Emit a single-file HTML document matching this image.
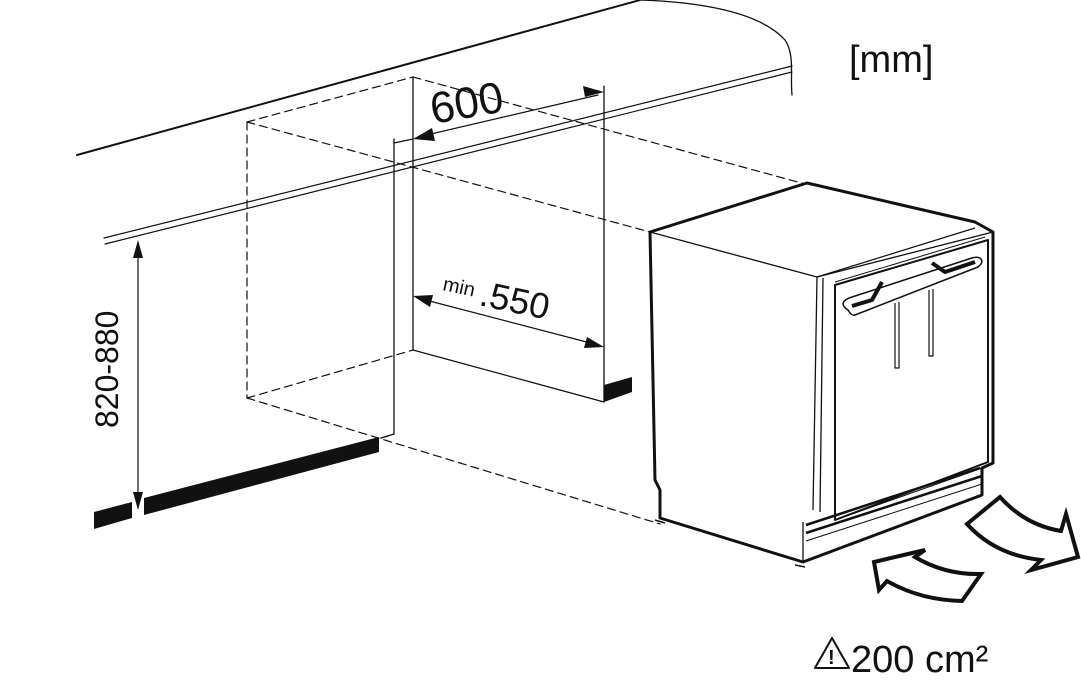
<!DOCTYPE html>
<html><head><meta charset="utf-8"><style>
html,body{margin:0;padding:0;background:#fff;}
svg{display:block;}
text{font-family:"Liberation Sans",sans-serif;fill:#111;}
</style></head><body>
<svg width="1081" height="690" viewBox="0 0 1081 690" xmlns="http://www.w3.org/2000/svg">
<g fill="none" stroke="#111" stroke-linecap="round">
<path d="M77,155 L640,0" stroke-width="2"/>
<path d="M640,0 C700,2 760,12 785,40 C795,55 790,75 792,95" stroke-width="1.3"/>
<path d="M104,238 L792,66" stroke-width="1.2"/>
<path d="M105,244 L792,72" stroke-width="1.2"/>
<g stroke-dasharray="8,5" stroke-width="1.2">
<path d="M247,122 L413,77"/>
<path d="M247,122 L247,398"/>
<path d="M247,398 L413,350"/>
<path d="M413,77 L805,184"/>
<path d="M247,122 L650,232"/>
<path d="M247,398 L660,524"/>
<path d="M381,438 L394,434"/>
</g>
<path d="M394,139 L394,434 L381,438" stroke-width="1.3"/>
<path d="M394,143 L413,139" stroke-width="1.3"/>
<path d="M413,77 L413,350 L604,402" stroke-width="1.3"/>
<path d="M604,86 L604,402" stroke-width="1.3"/>
<path d="M418,137 L598,95" stroke-width="1.2"/>
<path d="M418,298 L598,345" stroke-width="1.2"/>
<path d="M138,246 L138,504" stroke-width="1.2"/>
</g>
<g fill="#111">
<polygon points="413,139 432,128 435,141"/>
<polygon points="604,92 585,97 583,86"/>
<polygon points="413,296 433,295 430,307"/>
<polygon points="604,347 584,348 587,337"/>
<polygon points="138,240 133,258 143,258"/>
<polygon points="138,510 133,492 143,492"/>
<polygon points="94,512 132,502 132,518 94,529"/>
<polygon points="144,498 379,437 379,452 144,515"/>
<polygon points="604,385 632,377 632,392 604,402"/>
</g>
<text x="0" y="0" font-size="44" transform="translate(433,124) rotate(-10)">600</text>
<text x="0" y="0" font-size="20" transform="translate(442,290) rotate(12)">min</text>
<text x="0" y="0" font-size="36" transform="translate(478,305) rotate(12)">.550</text>
<text x="0" y="0" font-size="32" transform="translate(118,428) rotate(-90)">820-880</text>
<text x="849" y="72" font-size="38">[mm]</text>
<text x="851" y="672" font-size="38">200 cm²</text>
<g fill="none" stroke="#111" stroke-width="2" stroke-linejoin="round"><polygon points="832,638 815,668 849,668"/></g>
<text x="828" y="664" font-size="20" font-weight="bold">!</text>
<g fill="#fff" stroke="#111" stroke-linejoin="round">
<path d="M650,232 L807,183 L975,222 L993,232 L993,463 L982,468 L982,495 L803,562 L660,518 L660,490 L655,480 Z" stroke-width="3"/>
<path d="M650,232 L817,277 L993,232" stroke-width="1.3" fill="none"/>
<path d="M817,277 L813,510" stroke-width="1.3" fill="none"/>
<path d="M823,278 L820,512" stroke-width="1.3" fill="none"/>
<path d="M817,277 L975,228" stroke-width="1.2" fill="none"/>
<path d="M803,522 L803,562" stroke-width="1.3" fill="none"/>
<path d="M835,285 L988,240 L988,462 L835,520 Z" stroke-width="2"/>
<path d="M835,282 L985,237" stroke-width="1" fill="none"/>
<path d="M806,525 L980,468" stroke-width="2.5" fill="none"/>
<path d="M806,533 L982,476" stroke-width="2.5" fill="none"/>
<path d="M806,541 L982,484" stroke-width="1" fill="none"/>
<path d="M835,520 L985,467" stroke-width="1" fill="none"/>
<path d="M848,310 C840,305 842,300 852,297 L972,258 C982,255 985,262 978,267 L855,315 C852,316 850,313 848,310 Z" stroke-width="1.5"/>
<path d="M852,306 L872,300 L882,282" stroke-width="4" fill="none"/>
<path d="M932,263 L945,272 L975,262" stroke-width="4" fill="none"/>
<path d="M895,303 L895,368 L899,368 L899,302" stroke-width="1.2"/>
<path d="M929,290 L929,356 L933,356 L933,289" stroke-width="1.2"/>
<path d="M655,520 L665,523" stroke-width="1.5"/>
<path d="M795,565 L805,567" stroke-width="1.5"/>
</g>
<g fill="#fff" stroke="#111" stroke-width="4" stroke-linejoin="miter">
<path d="M967,524 L1000,497 Q1025,525 1061,531 L1066,514 L1078,557 L1031,570 L1041,560 Q995,555 967,524 Z"/>
<path d="M981,574 L962,601 Q920,600 887,581 L879,590 L874,562 L925,550 L915,557 Q945,575 981,574 Z"/>
</g>
</svg>
</body></html>
